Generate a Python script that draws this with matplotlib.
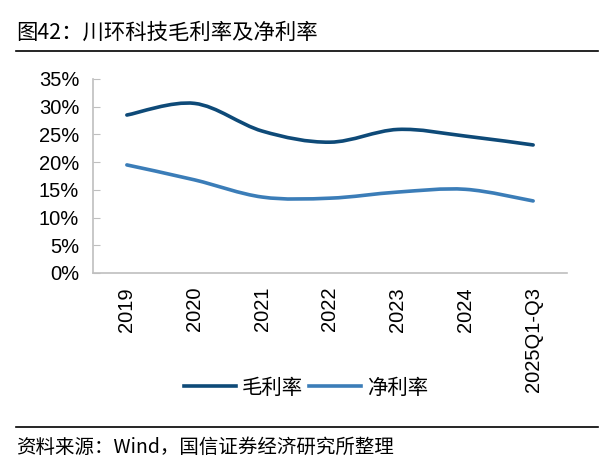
import matplotlib
matplotlib.use("Agg")
import matplotlib.pyplot as plt
from matplotlib.path import Path
from matplotlib.patches import PathPatch
from matplotlib.lines import Line2D
import numpy as np

categories = ["2019", "2020", "2021", "2022", "2023", "2024", "2025Q1-Q3"]
gross_margin = [28.5, 30.6, 25.6, 23.6, 25.9, 24.7, 23.1]
net_margin = [19.5, 16.8, 13.7, 13.5, 14.6, 15.1, 13.0]
series_names = ["毛利率", "净利率"]
colors = ["#0E4A78", "#3B7DB8"]
yticks = [0, 5, 10, 15, 20, 25, 30, 35]

plt.rcParams['font.family'] = ['Liberation Sans', 'Noto Sans CJK SC', 'DejaVu Sans']
cjk = ['Noto Sans CJK SC', 'DejaVu Sans']

fig = plt.figure(figsize=(6.03, 4.65), dpi=100)
ax = fig.add_axes([93/603, 1-273/465, (567-93)/603, (273-79)/465])


def smooth_path(xs, ys, t=1/6):
    xs = list(xs); ys = list(ys)
    n = len(xs)
    verts = [(xs[0], ys[0])]
    codes = [Path.MOVETO]
    for i in range(n - 1):
        x0, y0 = (xs[i-1], ys[i-1]) if i > 0 else (xs[i], ys[i])
        x1, y1 = xs[i], ys[i]
        x2, y2 = xs[i+1], ys[i+1]
        x3, y3 = (xs[i+2], ys[i+2]) if i + 2 < n else (xs[i+1], ys[i+1])
        c1 = (x1 + (x2 - x0) * t, y1 + (y2 - y0) * t)
        c2 = (x2 - (x3 - x1) * t, y2 - (y3 - y1) * t)
        verts += [c1, c2, (x2, y2)]
        codes += [Path.CURVE4] * 3
    return Path(verts, codes)


x = np.arange(len(categories))
for vals, c in zip([gross_margin, net_margin], colors):
    p = PathPatch(smooth_path(x, vals), facecolor='none', edgecolor=c,
                  lw=2.6, capstyle='round', joinstyle='round')
    ax.add_patch(p)

ax.set_xlim(-0.5, len(categories) - 0.5)
ax.set_ylim(0, 35)
ax.set_yticks(yticks)
ax.set_yticklabels([f"{v}%" for v in yticks], fontsize=14.5)
ax.set_xticks(x)
ax.set_xticklabels(categories, rotation=90, fontsize=14.5, va='top')
ax.tick_params(axis='y', direction='in', length=5, color='#BFBFBF', pad=10)
ax.tick_params(axis='x', length=0, pad=10)
for s in ['top', 'right']:
    ax.spines[s].set_visible(False)
for s in ['left', 'bottom']:
    ax.spines[s].set_color('#BFBFBF')
    ax.spines[s].set_linewidth(1.2)

handles = [Line2D([0], [0], color=c, lw=2.6) for c in colors]
leg = fig.legend(handles, series_names, loc='center', bbox_to_anchor=(306/603, 1-388/465),
                 ncol=2, frameon=False, prop={'family': cjk, 'size': 14.7},
                 handlelength=2.55, handletextpad=0.3, columnspacing=0.3,
                 borderpad=0, borderaxespad=0)

fig.text(16/603, 1-33/465, "图42：川环科技毛利率及净利率", fontsize=15.4, family=cjk,
         va='center', ha='left')
fig.add_artist(Line2D([16/603, 598/603], [1-50.7/465, 1-50.7/465], color='black', lw=1.2))
fig.add_artist(Line2D([16/603, 598/603], [1-427/465, 1-427/465], color='black', lw=1.2))
fig.text(16/603, 1-447/465, "资料来源：Wind，国信证券经济研究所整理", fontsize=14, family=cjk,
         va='center', ha='left')

fig.savefig("out.png", dpi=100)
